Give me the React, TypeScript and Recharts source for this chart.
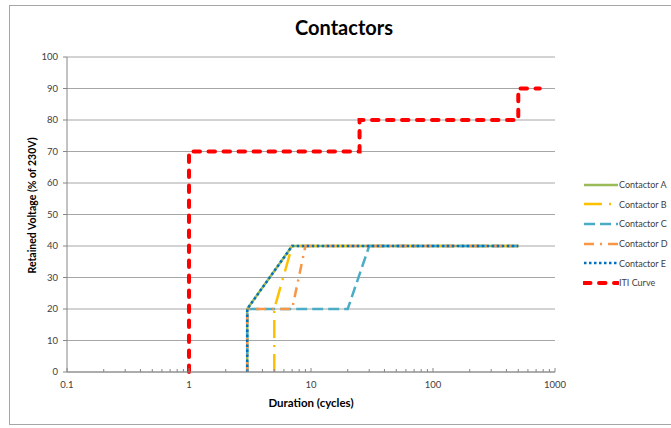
import React from 'react';
import { LineChart, Line, XAxis, YAxis, CartesianGrid, Legend } from 'recharts';

// x axis (log) and y axis ticks
const durationLabels = [0.1, 1, 10, 100, 1000];
const durationMinor = [
  0.2, 0.3, 0.4, 0.5, 0.6, 0.7, 0.8, 0.9,
  2, 3, 4, 5, 6, 7, 8, 9,
  20, 30, 40, 50, 60, 70, 80, 90,
  200, 300, 400, 500, 600, 700, 800, 900,
];
const voltageTicks = [0, 10, 20, 30, 40, 50, 60, 70, 80, 90, 100];

// series: duration (cycles) / retained voltage (%)
const aDuration = [3, 3, 7, 500];
const aVoltage = [0, 20, 40, 40];
const bDuration = [5, 5, 7, 500];
const bVoltage = [0, 20, 40, 40];
const cDuration = [3, 3, 20, 30, 500];
const cVoltage = [0, 20, 20, 40, 40];
const dDuration = [3, 3, 7, 9, 500];
const dVoltage = [0, 20, 20, 40, 40];
const eDuration = [3, 3, 7, 500];
const eVoltage = [0, 20, 40, 40];
const itiDuration = [1, 1, 25, 25, 500, 500, 750];
const itiVoltage = [0, 70, 70, 80, 80, 90, 90];

const toPoints = (d: number[], v: number[]) => d.map((x, i) => ({ d: x, v: v[i] }));

const series = [
  { name: 'Contactor A', data: toPoints(aDuration, aVoltage), color: '#9BBB59', width: 2.5, dash: undefined as string | undefined, cap: 'butt' },
  { name: 'Contactor B', data: toPoints(bDuration, bVoltage), color: '#FFC000', width: 2.5, dash: '18 7 2 7', cap: 'butt' },
  { name: 'Contactor C', data: toPoints(cDuration, cVoltage), color: '#4BACC6', width: 2.5, dash: '11 5', cap: 'butt' },
  { name: 'Contactor D', data: toPoints(dDuration, dVoltage), color: '#F79646', width: 2.5, dash: '10 6 2 6', cap: 'butt' },
  { name: 'Contactor E', data: toPoints(eDuration, eVoltage), color: '#0070C0', width: 2.5, dash: '2.5 2.5', cap: 'butt' },
  { name: 'ITI Curve', data: toPoints(itiDuration, itiVoltage), color: '#FF0000', width: 4, dash: '6.5 8.5', cap: 'round' },
];

const FONT = 'Lato, "Noto Sans", sans-serif';
const AXIS = '#868686';

function DurationTick(props: any) {
  const { x, y, payload } = props;
  const major = durationLabels.includes(payload.value);
  return (
    <g>
      <line x1={x} x2={x} y1={y} y2={y - (major ? 4 : 3)} stroke={AXIS} strokeWidth={1} />
      {major && (
        <text x={x} y={y + 16} textAnchor="middle" fontSize={9.5} fill="#404040" fontFamily={FONT}>
          {payload.value}
        </text>
      )}
    </g>
  );
}

function LegendBox() {
  return (
    <div style={{ fontFamily: FONT, fontSize: 9, color: '#404040' }}>
      {series.map((s) => (
        <div key={s.name} style={{ display: 'flex', alignItems: 'center', height: 19.6 }}>
          <svg width={36} height={8} style={{ display: 'block', flex: 'none' }}>
            <line
              x1={1} x2={35} y1={4} y2={4}
              stroke={s.color} strokeWidth={s.width}
              strokeDasharray={s.dash} strokeLinecap={s.cap as any}
            />
          </svg>
          <span style={{ whiteSpace: 'nowrap' }}>{s.name}</span>
        </div>
      ))}
    </div>
  );
}

function YLabel(props: any) {
  const { viewBox } = props;
  const cx = viewBox.x + viewBox.width / 2 - 2;
  const cy = viewBox.y + viewBox.height / 2 - 9;
  return (
    <text x={cx} y={cy} transform={`rotate(-90, ${cx}, ${cy})`} textAnchor="middle" dominantBaseline="central"
      fontSize={10.5} fontWeight={700} fill="#000" fontFamily={FONT}>
      Retained Voltage (% of 230V)
    </text>
  );
}

export default function App() {
  return (
    <div style={{ position: 'relative', width: 671, height: 428, background: '#fff', fontFamily: FONT, overflow: 'hidden' }}>
      <style>{'html, body { margin: 0; padding: 0; overflow: hidden; }'}</style>
      <div style={{ position: 'absolute', left: 9, top: 5, width: 664, height: 420, border: '1px solid #a6a6a6', boxSizing: 'border-box' }} />
      <div style={{ position: 'absolute', left: 0, top: 15, width: 688, textAlign: 'center', fontSize: 20, fontWeight: 700, lineHeight: '24px' }}>
        Contactors
      </div>
      <div style={{ position: 'absolute', left: 0, top: 0 }}>
        <LineChart width={671} height={428} margin={{ top: 57, right: 116, bottom: 0, left: 0 }} style={{ fontFamily: FONT }}>
          <CartesianGrid vertical={false} stroke="#a6a6a6" strokeWidth={1} />
          <XAxis
            dataKey="d" type="number" scale="log" domain={[0.1, 1000]} allowDataOverflow
            ticks={[...durationLabels, ...durationMinor].sort((a, b) => a - b)} interval={0}
            tick={<DurationTick />} tickLine={false} tickSize={0} tickMargin={0}
            height={56} stroke={AXIS}
            label={{ value: 'Duration (cycles)', position: 'insideBottom', offset: 21, fontSize: 11.5, fontWeight: 700, fill: '#000' }}
          />
          <YAxis
            dataKey="v" type="number" domain={[0, 100]} ticks={voltageTicks} interval={0}
            width={67} tickSize={4} tickMargin={5} stroke={AXIS}
            tick={{ fontSize: 9.5, fill: '#404040' }}
            label={<YLabel />}
          />
          <Legend
            layout="vertical" align="center" verticalAlign="middle"
            wrapperStyle={{ left: 583, top: 175, width: 86 }}
            content={() => <LegendBox />}
          />
          {series.map((s) => (
            <Line
              key={s.name} name={s.name} data={s.data} dataKey="v" type="linear"
              stroke={s.color} strokeWidth={s.width} strokeDasharray={s.dash} strokeLinecap={s.cap as any}
              dot={false} activeDot={false} isAnimationActive={false}
            />
          ))}
        </LineChart>
      </div>
    </div>
  );
}
